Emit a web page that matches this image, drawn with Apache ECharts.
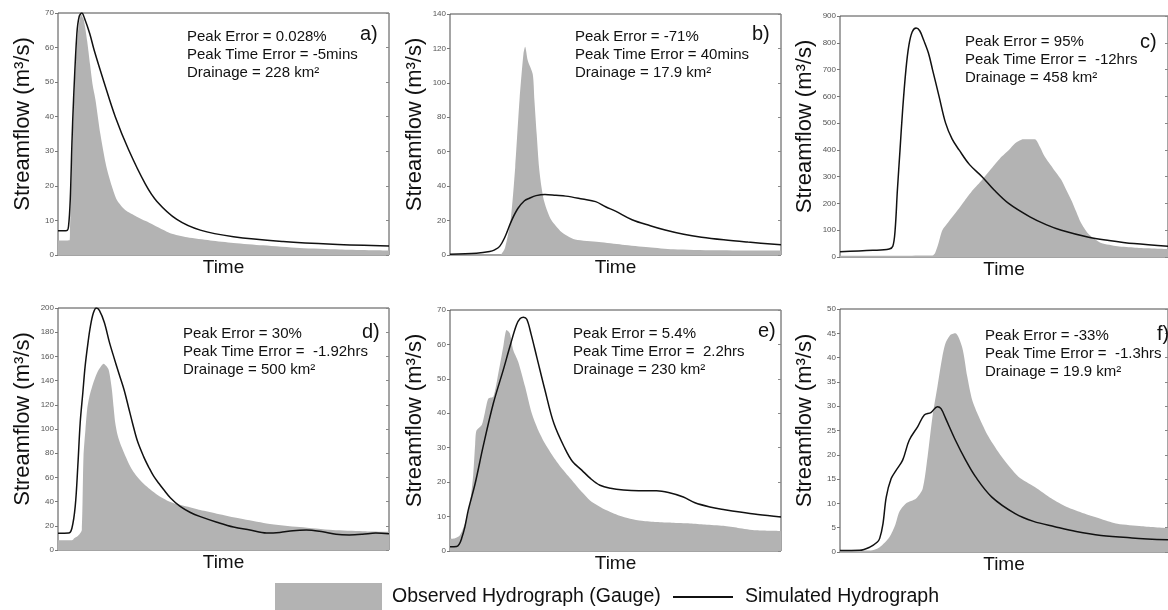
<!DOCTYPE html>
<html>
<head>
<meta charset="utf-8">
<script src="https://cdn.jsdelivr.net/npm/echarts@6/dist/echarts.min.js"></script>
<style>
html,body{margin:0;padding:0;background:#fff;}
#chart{width:1168px;height:610px;}
</style>
</head>
<body>
<div id="chart"></div>
<script>
// ---- Data (x = % of time window, y = streamflow m3/s) ----
const obsA = [[0,4.2],[3.5,4.3],[3.6,6],[4.5,35],[5.3,54.5],[6,64],[7,69.5],[7.8,68],[8.8,62],[9.7,55],[10.5,49],[11.3,45],[12.8,35],[14.6,25.6],[16.3,19.8],[17.8,15.9],[20.3,13],[23.8,11.1],[26.5,9.8],[28.9,8.7],[31.9,7.2],[33.9,6.3],[39,5.1],[46,4.2],[53,3.5],[62,2.8],[73,2],[85,1.6],[100,1.3]];
const simA = [[0,7],[2.7,7.1],[3.2,8.5],[3.7,16],[4.2,32],[4.7,45],[5.7,64],[6.4,69],[7.2,70],[8,68.5],[9.6,64],[11,59],[14,49.7],[17.3,40],[21.3,30.5],[26.4,20.5],[29.9,15.5],[35.9,10.3],[43,7.2],[53,5.3],[68,3.9],[83,3.1],[100,2.6]];

const obsB = [[0,0],[14.5,0],[15.5,0.5],[16.6,4],[18.3,20],[19.7,51],[21,90],[22.2,117],[22.7,121],[23.5,113],[25,105],[25.5,90],[26.2,70],[26.9,51],[27.6,40],[28.4,31.5],[29.5,25],[30.7,20],[33.3,14],[35.5,11],[37.8,9],[45,7.5],[52,6],[60,4.5],[67.5,3.3],[80,2.7],[100,2.5]];
const simB = [[0,0.5],[8,1],[12,2],[13.5,3],[15,5],[16.5,10],[18.6,20],[20.5,27],[22.5,31.5],[24,33],[26,34.5],[28.7,35.2],[32,34.7],[35,34.2],[40,32.5],[44,31],[47,28],[50,25.5],[55,20.5],[60.5,17],[65,14.5],[70.6,12],[76,10.3],[82.7,8.8],[90,7.5],[100,5.9]];

const obsC = [[0,5],[28.2,6],[29,15],[30,50],[31.2,100],[33,130],[35.2,164],[38,210],[40.5,250],[43.3,288],[46.5,335],[49.3,375],[51.5,400],[53.4,425],[55.9,440],[59.4,440],[61,410],[62.4,375],[65,330],[67.5,288],[69,250],[70.5,213],[72,170],[73.5,127],[75.5,90],[77.5,68],[79.6,52],[84.6,40],[90,35],[100,30]];
const simC = [[0,20],[10,25],[15,30],[16.1,40],[16.8,100],[17.5,250],[18.3,400],[19.1,550],[20.1,700],[21,790],[22,840],[23.2,855],[24.3,845],[25.5,810],[27,760],[28.2,700],[30.2,600],[32.2,500],[34.2,440],[36.3,400],[39.5,345],[43.3,300],[47,250],[51.4,200],[57.9,150],[63,120],[67.5,100],[75.5,75],[82,62],[89.6,50],[100,40]];

const obsD = [[0,8],[4.2,8],[5,10],[5.7,11],[6.5,13],[7.2,16.5],[7.7,77],[8.3,100],[8.8,116],[9.5,127],[10.3,135],[11.3,143],[12.3,149],[13.8,154],[14.6,152],[15.3,149],[15.8,142],[16.3,132],[16.8,118],[17.3,105],[18,95],[18.8,88],[20,80],[21.3,72],[22.5,66],[23.8,61],[25.8,55],[27.9,50],[30.3,45],[32.9,41],[35.9,38],[38.9,36],[43,33],[48,30],[55,26],[63,22],[73,19],[83,16.5],[92,15.5],[100,15]];
const simD = [[0,13.8],[3.2,14],[4.2,18],[5.2,36],[6,70],[6.7,105],[7.5,130],[8.2,152],[9,170],[9.8,185],[10.7,196],[11.6,200],[12.5,198],[14,188],[15.5,172],[16.8,160],[18.5,145],[20,132],[21.3,118],[22.5,105],[24,90],[25.9,77],[27.5,68],[28.9,61],[30.5,55],[31.9,50],[34,43],[36.9,36],[40,31],[43,27.6],[48,23],[53,19],[58,16.5],[63,14],[67,14.5],[71,16],[75,16.5],[80,15],[84,13],[88,12.5],[92,13],[96,14],[100,13.5]];

const obsE = [[0,3.5],[1.5,3.7],[3,4.6],[4.5,8],[6,13.8],[7,22],[7.6,31],[8,35],[9.6,36.6],[10.5,40],[11.6,44.3],[13.1,44.8],[14.6,51.6],[16.1,59.4],[17.1,64.2],[18.1,63.2],[19.1,58.4],[20.6,55],[22.7,47.7],[24.7,40],[26.7,35],[28.7,31.2],[31.2,27.4],[34.2,23.5],[37.3,20],[40,17],[42.3,14.7],[45,13],[47.3,11.8],[51,10.3],[54.4,9.4],[58,8.8],[62.4,8.4],[67,8.2],[72.5,8],[77,7.7],[82.6,7.3],[87,6.7],[92.6,6],[100,5.8]];
const simE = [[0,1.2],[2,1.3],[2.8,2],[3.5,3.6],[4.5,7],[5.5,11.8],[7.6,19.6],[10,30.3],[13.1,42.9],[16.1,52.6],[18.1,59.4],[20.1,65.7],[21.2,67.5],[22.2,67.9],[23.2,67.3],[24.5,63],[26.2,56.4],[28.7,46.7],[31.4,37],[34.7,29.8],[37,26],[39.8,23.5],[42.5,21],[45.3,19.1],[48.5,18.2],[52.4,17.7],[57,17.5],[62.4,17.5],[66,17],[70.5,15.7],[74,14],[78.5,12.8],[83,12],[87.6,11.3],[93,10.6],[100,9.9]];

const obsF = [[0,0.3],[9.1,0.3],[12.1,1],[15.1,3.1],[16.8,5.5],[18.1,8.3],[20.1,10],[23.2,11],[25.2,13],[26.7,19.6],[28.2,27.9],[29.7,34],[31.2,40.2],[32.2,43],[33.7,44.7],[35.2,45],[37.3,42],[38.8,36.1],[40.3,31.3],[42.3,27.9],[45.3,23.7],[49.3,19.6],[54.4,15.5],[59.4,13.4],[64.5,11],[69,9.3],[74.5,7.9],[80,6.7],[84.6,5.8],[92,5.3],[100,4.9]];
const simF = [[0,0.3],[6,0.35],[9.1,1],[11.3,2],[12.1,2.8],[13.1,5.8],[14.1,11.3],[15.6,15.1],[17.1,16.8],[19.1,18.9],[21.1,23],[23.7,25.8],[25.7,28.2],[27.7,28.7],[29.7,29.9],[30.8,29.5],[32.2,27.5],[35.2,23],[38.3,18.9],[41.3,15.5],[46.3,11.3],[53.4,7.9],[59,6.3],[65.5,5.2],[72,4.2],[79.6,3.4],[89,2.9],[100,2.5]];

const yMax = [70, 140, 900, 200, 70, 50];
const yStep = [10, 20, 100, 20, 10, 5];
const panelTags = ['a)', 'b)', 'c)', 'd)', 'e)', 'f)'];
const peakErrors = ['0.028%', '-71%', '95%', '30%', '5.4%', '-33%'];
const peakTimeErrors = ['-5mins', '40mins', ' -12hrs', ' -1.92hrs', ' 2.2hrs', ' -1.3hrs'];
const drainages = ['228', '17.9', '458', '500', '230', '19.9'];
const obsData = [obsA, obsB, obsC, obsD, obsE, obsF];
const simData = [simA, simB, simC, simD, simE, simF];

const OBS_NAME = 'Observed Hydrograph (Gauge)';
const SIM_NAME = 'Simulated Hydrograph';

// ---- Layout ----
const grids = [
  {left: 58, top: 13, width: 331, height: 242},
  {left: 450, top: 14, width: 331, height: 241},
  {left: 840, top: 16, width: 331, height: 241},
  {left: 58, top: 308, width: 331, height: 242},
  {left: 450, top: 310, width: 331, height: 241},
  {left: 840, top: 309, width: 331, height: 243}
];
const textPos = [[187,28],[575,28],[965,33],[183,325],[573,325],[985,327]];
const tagPos = [[360,24],[752,24],[1140,32],[362,322],[758,321],[1157,324]];

const FONT = 'Liberation Sans, Arial, Helvetica, sans-serif';

const option = {
  animation: false,
  backgroundColor: '#ffffff',
  textStyle: {fontFamily: FONT},
  grid: grids.map(g => Object.assign({show: true, borderColor: '#4a4a4a', borderWidth: 1, backgroundColor: 'transparent'}, g)),
  xAxis: grids.map((g, i) => ({
    type: 'value', gridIndex: i, min: 0, max: 100,
    name: 'Time', nameLocation: 'middle', nameGap: 3,
    nameTextStyle: {fontSize: 19, color: '#111', fontFamily: FONT, verticalAlign: 'top'},
    axisLine: {show: false}, axisTick: {show: false}, axisLabel: {show: false}, splitLine: {show: false}
  })),
  yAxis: [].concat(
    grids.map((g, i) => ({
      type: 'value', gridIndex: i, min: 0, max: yMax[i], interval: yStep[i], position: 'left',
      name: 'Streamflow (m³/s)', nameLocation: 'middle', nameGap: 24,
      nameTextStyle: {fontSize: 22, color: '#111', fontFamily: FONT, padding: [0, 0, 0, 20]},
      axisLine: {show: false},
      axisTick: {show: true, length: 3, lineStyle: {color: '#777'}},
      axisLabel: {fontSize: 8, color: '#555', margin: 4, fontFamily: FONT},
      splitLine: {show: false}
    })),
    grids.map((g, i) => ({
      type: 'value', gridIndex: i, min: 0, max: yMax[i], interval: yStep[i], position: 'right',
      axisLine: {show: false},
      axisTick: {show: true, inside: true, length: 3, lineStyle: {color: '#888'}},
      axisLabel: {show: false}, splitLine: {show: false}
    }))
  ),
  legend: [
    {data: [OBS_NAME], left: 275, top: 583, itemWidth: 107, itemHeight: 27, icon: 'rect', padding: 0,
     selectedMode: false, textStyle: {fontSize: 19.5, color: '#111', fontFamily: FONT, padding: [0,0,0,5]}},
    {data: [SIM_NAME], left: 673, top: 587, itemWidth: 60, itemHeight: 2, icon: 'rect', padding: 0,
     selectedMode: false, textStyle: {fontSize: 19.5, color: '#111', fontFamily: FONT, padding: [0,0,0,7]}}
  ],
  series: [].concat(
    obsData.map((d, i) => ({
      type: 'line', name: OBS_NAME, xAxisIndex: i, yAxisIndex: i, data: d,
      showSymbol: false, smooth: 0.25,
      lineStyle: {width: 0, color: '#b3b3b3'}, itemStyle: {color: '#b3b3b3'},
      areaStyle: {color: '#b3b3b3', opacity: 1}, z: 1
    })),
    simData.map((d, i) => ({
      type: 'line', name: SIM_NAME, xAxisIndex: i, yAxisIndex: i, data: d,
      showSymbol: false, smooth: 0.35,
      lineStyle: {width: 1.5, color: '#111'}, itemStyle: {color: '#111'}, z: 3
    }))
  ),
  graphic: [].concat(
    textPos.map((p, i) => ({
      type: 'text', left: p[0], top: p[1], z: 10,
      style: {
        text: 'Peak Error = ' + peakErrors[i] + '\nPeak Time Error = ' + peakTimeErrors[i] + '\nDrainage = ' + drainages[i] + ' km²',
        font: '15px ' + FONT, fill: '#111', lineHeight: 18
      }
    })),
    tagPos.map((p, i) => ({
      type: 'text', left: p[0], top: p[1], z: 10,
      style: {text: panelTags[i], font: '20px ' + FONT, fill: '#111'}
    }))
  )
};

const chart = echarts.init(document.getElementById('chart'), null, {renderer: 'canvas'});
chart.setOption(option);
</script>
</body>
</html>
